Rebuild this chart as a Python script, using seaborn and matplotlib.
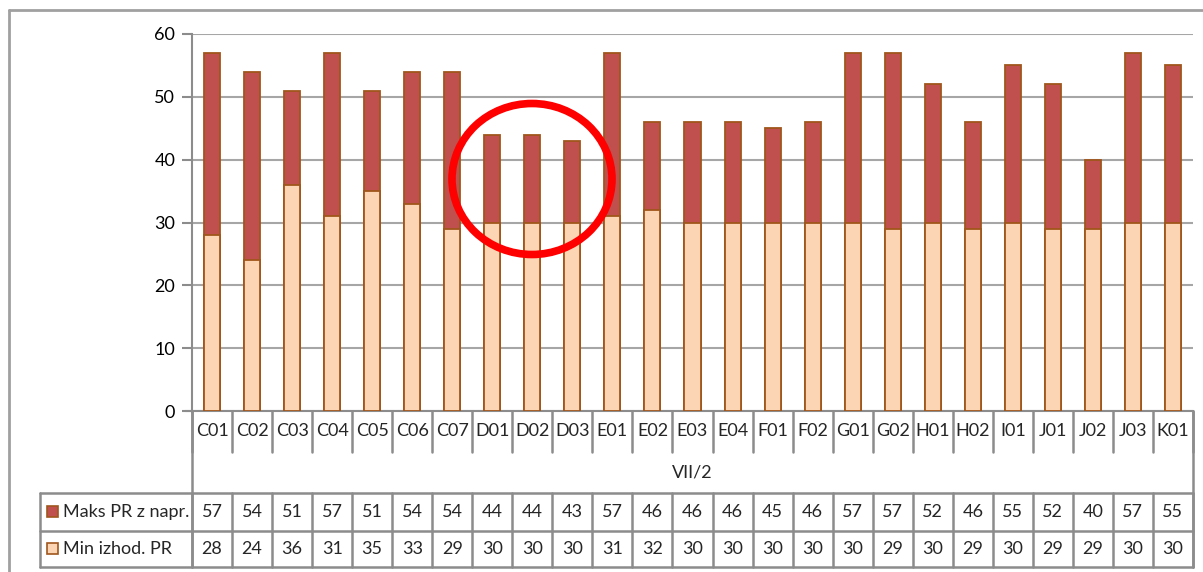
import matplotlib
matplotlib.use('Agg')
import matplotlib.pyplot as plt
import seaborn as sns
from matplotlib.patches import Ellipse, Rectangle
from matplotlib.transforms import blended_transform_factory

# data
categories = ['C01', 'C02', 'C03', 'C04', 'C05', 'C06', 'C07', 'D01', 'D02', 'D03',
              'E01', 'E02', 'E03', 'E04', 'F01', 'F02', 'G01', 'G02', 'H01', 'H02',
              'I01', 'J01', 'J02', 'J03', 'K01']
maks_pr = [57, 54, 51, 57, 51, 54, 54, 44, 44, 43, 57, 46, 46, 46, 45, 46, 57, 57, 52, 46,
           55, 52, 40, 57, 55]
min_pr = [28, 24, 36, 31, 35, 33, 29, 30, 30, 30, 31, 32, 30, 30, 30, 30, 30, 29, 30, 29,
          30, 29, 29, 30, 30]
group_label = 'VII/2'
series_names = ['Maks PR z napr.', 'Min izhod. PR']
yticks = [0, 10, 20, 30, 40, 50, 60]

dark_red = '#C0504D'
peach = '#FCD5B5'
edge = '#A0561C'
line_gray = '#8C8C8C'

sns.set_style('white')
plt.rcParams['font.family'] = ['Lato', 'DejaVu Sans']

W, H = 1203, 572
fig = plt.figure(figsize=(W / 100, H / 100), dpi=100)

# plot area in pixels
left, right, top, bottom = 192, 1193, 34, 411
ax = fig.add_axes([left / W, 1 - bottom / H, (right - left) / W, (bottom - top) / H])

sns.barplot(x=categories, y=maks_pr, color=dark_red, saturation=1, width=0.4,
            edgecolor=edge, linewidth=1.3, ax=ax, zorder=3)
sns.barplot(x=categories, y=min_pr, color=peach, saturation=1, width=0.4,
            edgecolor=edge, linewidth=1.3, ax=ax, zorder=4)

ax.set_xlim(-0.5, len(categories) - 0.5)
ax.set_ylim(0, 60)
ax.set_yticks(yticks)
ax.set_xticks([])
ax.set_xlabel('')
ax.set_ylabel('')
ax.yaxis.grid(True, color='#A6A6A6', linewidth=1.5)
ax.set_axisbelow(True)
for s in ['top', 'right']:
    ax.spines[s].set_visible(False)
for s in ['left', 'bottom']:
    ax.spines[s].set_color(line_gray)
    ax.spines[s].set_linewidth(1.5)
ax.tick_params(axis='y', left=True, length=7, width=1.5, color=line_gray, pad=5,
               labelsize=13, labelcolor='black')

# overlay in pixel coordinates for the data table
over = fig.add_axes([0, 0, 1, 1], zorder=-1)
over.set_xlim(0, W)
over.set_ylim(H, 0)
over.axis('off')
tr = blended_transform_factory(ax.transData, over.transData)

lw = 1.8
row_cat = (411, 452)
row_top, row_mid, row_bot = 493, 531, 567
n = len(categories)

# outer frame
over.plot([9, W], [10, 10], color='#A0A0A0', lw=2)
over.plot([9, 9], [10, H], color='#A0A0A0', lw=2)

# x-axis tick line at zero across
over.plot([185, left], [bottom, bottom], color=line_gray, lw=1.5)

for i in range(n + 1):
    x = i - 0.5
    over.plot([x, x], [row_cat[0], row_cat[1]], color=line_gray, lw=lw, transform=tr)
    over.plot([x, x], [row_top, row_bot], color=line_gray, lw=lw, transform=tr)
over.plot([left, left], [bottom, row_bot], color=line_gray, lw=lw)
over.plot([right, right], [bottom, row_bot], color=line_gray, lw=lw)
over.plot([40, 40], [row_top, row_bot], color=line_gray, lw=lw)
for y in [row_top, row_mid, row_bot]:
    over.plot([40, right], [y, y], color=line_gray, lw=lw)

for i, c in enumerate(categories):
    over.text(i, (row_cat[0] + row_cat[1]) / 2, c, transform=tr, ha='center', va='center',
              fontsize=13)
    over.text(i, (row_top + row_mid) / 2, str(maks_pr[i]), transform=tr, ha='center',
              va='center', fontsize=13)
    over.text(i, (row_mid + row_bot) / 2, str(min_pr[i]), transform=tr, ha='center',
              va='center', fontsize=13)

over.text((left + right) / 2, 472, group_label, ha='center', va='center', fontsize=13)

# legend keys and row names
for (y0, y1), name, col in zip([(row_top, row_mid), (row_mid, row_bot)], series_names,
                               [dark_red, peach]):
    yc = (y0 + y1) / 2
    over.add_patch(Rectangle((47, yc - 6), 11, 11, facecolor=col, edgecolor=edge, lw=1.2))
    over.text(63, yc, name, ha='left', va='center', fontsize=13)

# red highlight circle
fig.add_artist(Ellipse((532 / W, 1 - 179 / H), 160 / W, 151 / H, transform=fig.transFigure,
                       fill=False, edgecolor='#FF0000', linewidth=5.5, zorder=10))

fig.savefig('out.png', dpi=100)
